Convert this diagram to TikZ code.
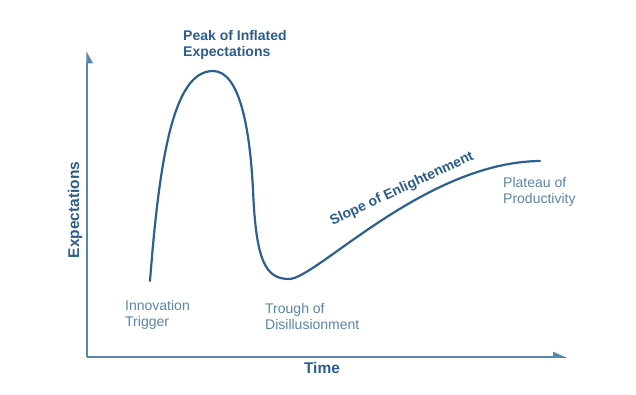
\documentclass[tikz,border=0pt]{standalone}
\usepackage{fontspec}
\setmainfont{Liberation Sans}
\usetikzlibrary{arrows.meta}
\definecolor{curveblue}{HTML}{2D6090}
\definecolor{axisblue}{HTML}{5A86AE}
\definecolor{labelblue}{HTML}{5B84A8}
\definecolor{boldblue}{HTML}{2C5D8B}
\tikzset{
  lbl/.style={text=labelblue, font=\fontsize{14}{16}\selectfont, align=left, inner sep=0pt},
  blbl/.style={text=boldblue, font=\fontsize{14}{16}\selectfont\bfseries, align=left, inner sep=0pt},
  axlbl/.style={text=boldblue, font=\fontsize{15.5}{17}\selectfont\bfseries, inner sep=0pt},
  axis/.style={draw=axisblue, line width=1.5pt},
  hype/.style={draw=curveblue, line width=2.2pt, line cap=round}
}
\begin{document}
\begin{tikzpicture}[x=1pt,y=-1pt]
\useasboundingbox (0,0) rectangle (636,394);
\coordinate (O) at (87,357);
\coordinate (Ytop) at (87,51);
\coordinate (Xend) at (567,357);
\draw[axis, -{Triangle[harpoon,swap,length=11pt,width=12pt]}] (O) -- (Ytop);
\draw[axis, -{Triangle[harpoon,length=12pt,width=10pt]}] (O) -- (Xend);
\coordinate (s) at (150,281);
\coordinate (pk) at (213,71);
\coordinate (dn) at (253,190);
\coordinate (tr) at (289,279);
\coordinate (pl) at (540,161);
\draw[hype] (s) .. controls (160,150) and (175,71) .. (pk)
  .. controls (240,71) and (250,130) .. (dn)
  .. controls (256,260) and (265,279) .. (tr)
  .. controls (316,279) and (425,162) .. (pl);
\node[blbl, anchor=west] (peak) at (183,45) {Peak of Inflated\\Expectations};
\node[lbl, anchor=west] (innov) at (125,315) {Innovation\\Trigger};
\node[lbl, anchor=west] (trough) at (265,316) {Trough of\\Disillusionment};
\node[lbl, anchor=west] (plat) at (503,192) {Plateau of\\Productivity};
\node[blbl, rotate=25] (slope) at (402,189) {Slope of Enlightenment};
\node[axlbl] (time) at (322,368) {Time};
\node[axlbl, rotate=90] (exp) at (75,210) {Expectations};
\end{tikzpicture}
\end{document}
